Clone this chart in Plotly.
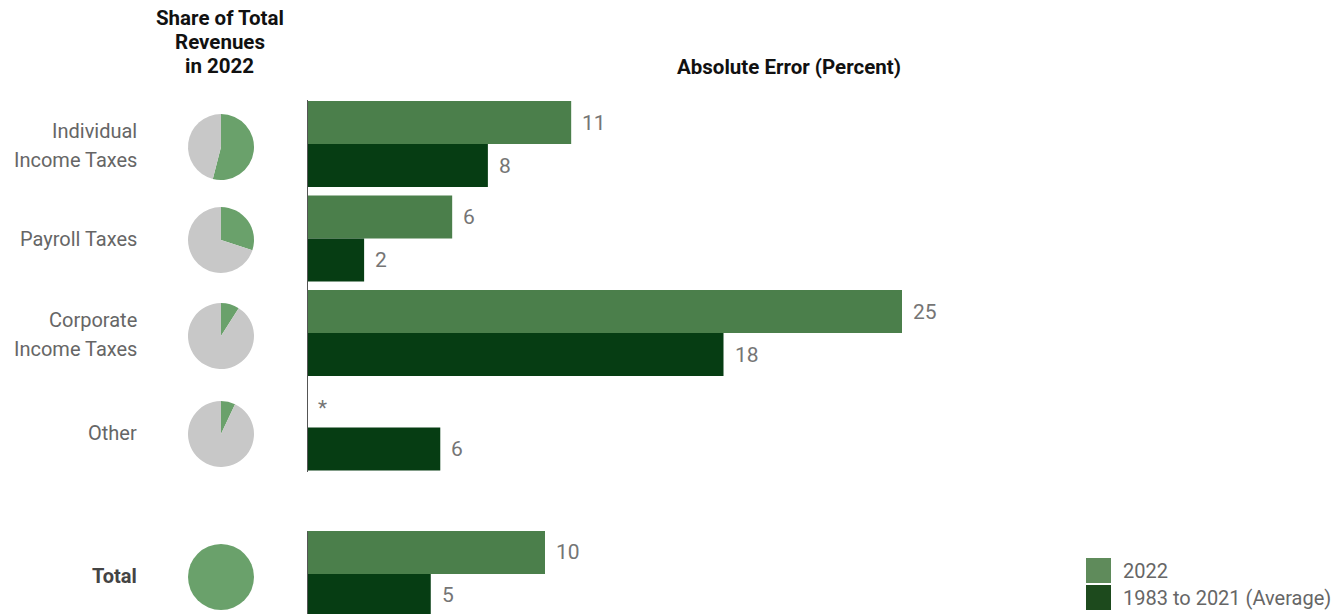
import plotly.graph_objects as go

# ---------------- data ----------------
categories = [["Individual", "Income Taxes"], ["Payroll Taxes"], ["Corporate", "Income Taxes"], ["Other"], ["<b>Total</b>"]]
positions = [0, 1, 2, 3, 4.55]
share_2022 = [54, 30, 9, 7, 100]          # share of total revenues in 2022 (percent)
error_2022 = [11.1, 6.1, 25.0, 0.0, 10.0]  # absolute error 2022
error_avg = [7.6, 2.4, 17.5, 5.6, 5.2]     # 1983 to 2021 average
labels_2022 = ["11", "6", "25", "*", "10"]
labels_avg = ["8", "2", "18", "6", "5"]
series_names = ["2022", "1983 to 2021 (Average)"]
title_left = ["Share of Total", "Revenues", "in 2022"]
title_right = "Absolute Error (Percent)"

# ---------------- style ----------------
W, H = 1342, 614
C_LIGHT = "#4b7f4b"
C_DARK = "#063d13"
C_LEG_LIGHT = "#5f8b5b"
C_LEG_DARK = "#1d4a1d"
C_PIE = "#6aa16b"
C_GRAY = "#c8c8c8"
FONT = "Roboto"
BW = 0.455

fig = go.Figure()
fig.add_trace(go.Bar(y=positions, x=error_2022, orientation="h", name=series_names[0],
                     marker=dict(color=C_LIGHT, line=dict(width=0)), width=BW, offset=-BW,
                     showlegend=False, hoverinfo="skip"))
fig.add_trace(go.Bar(y=positions, x=error_avg, orientation="h", name=series_names[1],
                     marker=dict(color=C_DARK, line=dict(width=0)), width=BW, offset=0,
                     showlegend=False, hoverinfo="skip"))

# value labels
for p, v, t in zip(positions, error_2022, labels_2022):
    fig.add_annotation(x=v, y=p - BW / 2, xref="x", yref="y", text=t, showarrow=False,
                       xanchor="left", xshift=9, yshift=(-2 if t == "*" else 0),
                       font=dict(family=FONT, size=21, color="#757575"))
for p, v, t in zip(positions, error_avg, labels_avg):
    fig.add_annotation(x=v, y=p + BW / 2, xref="x", yref="y", text=t, showarrow=False,
                       xanchor="left", xshift=9,
                       font=dict(family=FONT, size=21, color="#757575"))

# pies
pie_cy = [147, 240, 336, 434, 577]
R = 33
cx = 221
for s, cy in zip(share_2022, pie_cy):
    fig.add_trace(go.Pie(values=[s, 100 - s], sort=False, direction="clockwise", rotation=0,
                         marker=dict(colors=[C_PIE, C_GRAY], line=dict(width=0)),
                         textinfo="none", hoverinfo="skip", showlegend=False,
                         domain=dict(x=[(cx - R) / W, (cx + R) / W],
                                     y=[1 - (cy + R) / H, 1 - (cy - R) / H])))

# category labels (one annotation per line, 29px line spacing)
LS = 29
for lines, cy in zip(categories, pie_cy):
    n = len(lines)
    for i, line in enumerate(lines):
        ypix = cy - 1.5 + (i - (n - 1) / 2) * LS
        fig.add_annotation(x=139 / W, y=1 - ypix / H, xref="paper", yref="paper", text=line,
                           showarrow=False, xanchor="right", yanchor="middle",
                           font=dict(family=FONT, size=20,
                                     color="#444444" if "Total" in line else "#666666"))

# titles
for i, line in enumerate(title_left):
    fig.add_annotation(x=220 / W, y=1 - (18 + 24 * i) / H, xref="paper", yref="paper",
                       text="<b>" + line + "</b>", showarrow=False,
                       xanchor="center", yanchor="middle",
                       font=dict(family=FONT, size=20.5, color="#111111"))
fig.add_annotation(x=789 / W, y=1 - 67 / H, xref="paper", yref="paper",
                   text="<b>" + title_right + "</b>", showarrow=False,
                   xanchor="center", yanchor="middle",
                   font=dict(family=FONT, size=20.5, color="#111111"))

# axis line segments
fig.add_shape(type="line", xref="x", yref="y", x0=0, x1=0, y0=-0.466, y1=3.47,
              line=dict(color="#555555", width=2))
fig.add_shape(type="line", xref="x", yref="y", x0=0, x1=0, y0=4.1, y1=5.0,
              line=dict(color="#555555", width=2))

# custom legend
leg_items = [(series_names[0], C_LEG_LIGHT, 558), (series_names[1], C_LEG_DARK, 585)]
for name, col, top in leg_items:
    fig.add_shape(type="rect", xref="paper", yref="paper",
                  x0=1086 / W, x1=1111 / W, y0=1 - (top + 25) / H, y1=1 - top / H,
                  fillcolor=col, line=dict(width=0))
    fig.add_annotation(x=1121 / W, y=1 - (top + 12.5) / H, xref="paper", yref="paper",
                       text=name, showarrow=False, xanchor="left", yanchor="middle",
                       font=dict(family=FONT, size=20, color="#666666"))

fig.update_layout(
    width=W, height=H, margin=dict(l=0, r=0, t=0, b=0),
    paper_bgcolor="white", plot_bgcolor="white",
    barmode="overlay",
    xaxis=dict(domain=[307 / W, 1], range=[0, 1035 / 23.8], visible=False, fixedrange=True),
    yaxis=dict(domain=[0, 514 / H], range=[4.974, -0.466], visible=False, fixedrange=True),
    showlegend=False,
)

fig.write_html("out.html", config={"displayModeBar": False})
